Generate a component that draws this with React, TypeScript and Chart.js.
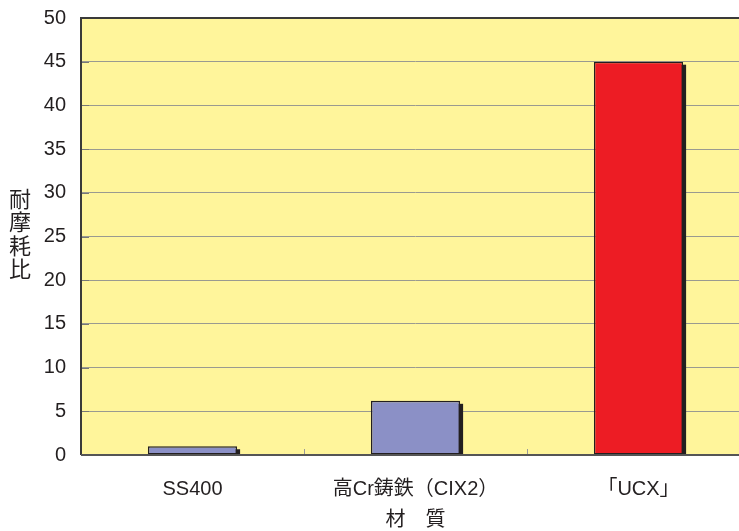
import React, { useEffect, useRef } from "react";
import { Chart, registerables } from "chart.js";

Chart.register(...registerables);

const categories = ["SS400", "高Cr鋳鉄（CIX2）", "「UCX」"];
const values = [1, 6.2, 45];
const barColors = ["#8B90C6", "#8B90C6", "#ED1C24"];
const yTitle = "耐摩耗比";
const xTitle = "材　質";
const yMin = 0;
const yMax = 50;
const yStep = 5;

const FONT = "'Liberation Sans', 'Noto Sans CJK JP', sans-serif";

const decorPlugin = {
  id: "decor",
  beforeDraw(chart: any) {
    const { ctx, chartArea } = chart;
    ctx.save();
    ctx.fillStyle = "#FFF59B";
    ctx.fillRect(chartArea.left, chartArea.top, chartArea.right - chartArea.left, chartArea.bottom - chartArea.top);
    ctx.restore();
  },
  beforeDatasetDraw(chart: any, args: any) {
    const { ctx, chartArea } = chart;
    const meta = chart.getDatasetMeta(args.index);
    ctx.save();
    ctx.beginPath();
    ctx.rect(chartArea.left, chartArea.top, chartArea.right - chartArea.left, chartArea.bottom - chartArea.top);
    ctx.clip();
    ctx.fillStyle = "#231F20";
    meta.data.forEach((el: any) => {
      const p = el.getProps(["x", "y", "base", "width"], true);
      const left = p.x - p.width / 2;
      ctx.fillRect(left + 3, p.y + 3, p.width, p.base - p.y);
    });
    ctx.restore();
  },
  afterDraw(chart: any) {
    const { ctx, chartArea } = chart;
    const xs = chart.scales.x;
    const ys = chart.scales.y;
    ctx.save();
    ctx.strokeStyle = "#999";
    ctx.lineWidth = 1;
    for (let i = 0; i < categories.length - 1; i++) {
      const bx = Math.round((xs.getPixelForValue(i) + xs.getPixelForValue(i + 1)) / 2) + 0.5;
      ctx.beginPath();
      ctx.moveTo(bx, chartArea.bottom);
      ctx.lineTo(bx, chartArea.bottom - 6);
      ctx.stroke();
    }
    ctx.strokeStyle = "#777";
    for (let v = yMin; v <= yMax; v += yStep) {
      const py = Math.round(ys.getPixelForValue(v)) + 0.5;
      ctx.beginPath();
      ctx.moveTo(chartArea.left, py);
      ctx.lineTo(chartArea.left + 8, py);
      ctx.stroke();
    }
    ctx.strokeStyle = "#3a3a3a";
    ctx.lineWidth = 2;
    ctx.beginPath();
    ctx.moveTo(chartArea.left, chartArea.bottom);
    ctx.lineTo(chartArea.left, chartArea.top);
    ctx.lineTo(chartArea.right, chartArea.top);
    ctx.stroke();
    ctx.beginPath();
    ctx.strokeStyle = "#555";
    ctx.moveTo(chartArea.left, chartArea.bottom);
    ctx.lineTo(chartArea.right, chartArea.bottom);
    ctx.stroke();
    ctx.fillStyle = "#231F20";
    ctx.textAlign = "center";
    ctx.textBaseline = "middle";
    ctx.font = `20px ${FONT}`;
    ctx.fillText(xTitle, (chartArea.left + chartArea.right) / 2, 520);
    ctx.font = `22px ${FONT}`;
    const chars = Array.from(yTitle);
    const step = 23.5;
    const cy = 236;
    const start = cy - ((chars.length - 1) * step) / 2;
    chars.forEach((c, i) => ctx.fillText(c, 20, start + i * step));
    ctx.restore();
  },
};

export default function App() {
  const ref = useRef<HTMLCanvasElement>(null);
  useEffect(() => {
    if (!ref.current) return;
    const chart = new Chart(ref.current, {
      type: "bar",
      data: {
        labels: categories,
        datasets: [
          {
            data: values,
            backgroundColor: barColors,
            borderColor: "#231F20",
            borderWidth: 1.5,
            borderSkipped: false,
            barPercentage: 0.4,
            categoryPercentage: 1,
          },
        ],
      },
      options: {
        responsive: false,
        animation: false,
        layout: { padding: { left: 0, right: 10, top: 18, bottom: 0 } },
        plugins: { legend: { display: false }, tooltip: { enabled: false } },
        scales: {
          x: {
            grid: { display: false },
            border: { display: false },
            ticks: { color: "#231F20", font: { size: 20, family: FONT }, padding: 14, maxRotation: 0, autoSkip: false },
            afterFit: (s: any) => { s.height = 76; s.paddingLeft = 0; s.paddingRight = 0; },
          },
          y: {
            min: yMin,
            max: yMax,
            grid: { color: "#9a9a90", lineWidth: 1, drawTicks: false },
            border: { display: false },
            ticks: { stepSize: yStep, color: "#231F20", font: { size: 20, family: FONT }, padding: 15 },
            afterFit: (s: any) => { s.width = 81; s.paddingTop = 0; s.paddingBottom = 0; },
          },
        },
      },
      plugins: [decorPlugin],
    });
    return () => chart.destroy();
  }, []);
  return (
    <div style={{ position: "absolute", left: 0, top: 0, width: 739, height: 531, overflow: "hidden", background: "#fff" }}>
      <canvas ref={ref} width={760} height={531} style={{ display: "block" }} />
    </div>
  );
}
